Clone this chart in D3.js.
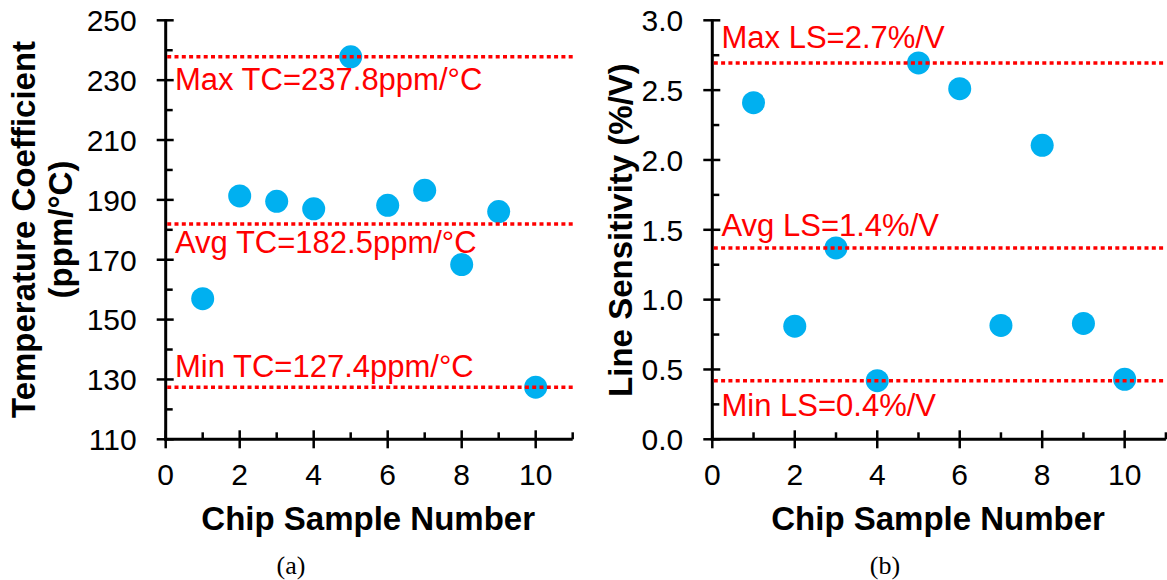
<!DOCTYPE html>
<html>
<head>
<meta charset="utf-8">
<script src="https://cdn.jsdelivr.net/npm/d3@7"></script>
<style>
  html, body { margin: 0; padding: 0; background: #fff; }
  svg { display: block; }
  text { font-family: "Liberation Sans", Arial, sans-serif; }
</style>
</head>
<body>
<svg id="chart" width="1167" height="580"></svg>
<script>
// ---- data ----
const chipSamples = [1, 2, 3, 4, 5, 6, 7, 8, 9, 10];
const tcValues = [157.0, 191.3, 189.5, 187.0, 237.8, 188.2, 193.2, 168.4, 186.1, 127.4];
const lsValues = [2.41, 0.81, 1.37, 0.42, 2.695, 2.51, 0.815, 2.105, 0.83, 0.43];

const tcRefValues = [237.8, 181.9, 127.4];
const tcRefLabels = ["Max TC=237.8ppm/°C", "Avg TC=182.5ppm/°C", "Min TC=127.4ppm/°C"];
const lsRefValues = [2.695, 1.37, 0.42];
const lsRefLabels = ["Max LS=2.7%/V", "Avg LS=1.4%/V", "Min LS=0.4%/V"];

const xMajorTicks = [0, 2, 4, 6, 8, 10];
const xMinorTicks = [1, 3, 5, 7, 9, 11];
const tcMajorTicks = [110, 130, 150, 170, 190, 210, 230, 250];
const tcMinorTicks = [120, 140, 160, 180, 200, 220, 240];
const lsMajorTicks = [0, 0.5, 1.0, 1.5, 2.0, 2.5, 3.0];
const lsMinorTicks = [0.25, 0.75, 1.25, 1.75, 2.25, 2.75];

const xTitle = "Chip Sample Number";
const tcTitle = ["Temperature Coefficient", "(ppm/°C)"];
const lsTitle = "Line Sensitivity (%/V)";
const captions = ["(a)", "(b)"];

// ---- drawing ----
const svg = d3.select("#chart");
const BLUE = "#00B0F0", RED = "#FF0000";

function panel(opts) {
  const g = svg.append("g");
  const x = d3.scaleLinear().domain([0, 11]).range(opts.xRange);
  const y = d3.scaleLinear().domain(opts.yDomain).range([439.3, 20.3]);
  const x0 = opts.xRange[0], yb = 439.3;

  // minor ticks (inside)
  g.selectAll(".xmin").data(xMinorTicks).enter().append("line")
    .attr("x1", d => x(d)).attr("x2", d => x(d))
    .attr("y1", yb).attr("y2", yb - 7)
    .attr("stroke", "#000").attr("stroke-width", 2.5);
  g.selectAll(".ymin").data(opts.yMinor).enter().append("line")
    .attr("x1", x0).attr("x2", x0 + 7)
    .attr("y1", d => y(d)).attr("y2", d => y(d))
    .attr("stroke", "#000").attr("stroke-width", 2.5);
  // major ticks (cross)
  g.selectAll(".xmaj").data(xMajorTicks).enter().append("line")
    .attr("x1", d => x(d)).attr("x2", d => x(d))
    .attr("y1", yb - 9).attr("y2", yb + 9)
    .attr("stroke", "#000").attr("stroke-width", 2.5);
  g.selectAll(".ymaj").data(opts.yMajor).enter().append("line")
    .attr("x1", x0 - 9).attr("x2", x0 + 8)
    .attr("y1", d => y(d)).attr("y2", d => y(d))
    .attr("stroke", "#000").attr("stroke-width", 2.5);
  // axis lines
  g.append("line").attr("x1", x0).attr("x2", x0).attr("y1", y.range()[1] - 1).attr("y2", yb + 1.5)
    .attr("stroke", "#000").attr("stroke-width", 3);
  g.append("line").attr("x1", x0 - 1.5).attr("x2", opts.xRange[1]).attr("y1", yb).attr("y2", yb)
    .attr("stroke", "#000").attr("stroke-width", 3);

  // tick labels
  g.selectAll(".xl").data(xMajorTicks).enter().append("text")
    .attr("x", d => x(d)).attr("y", 485)
    .attr("text-anchor", "middle").attr("font-size", 30).attr("fill", "#000")
    .text(d => d);
  g.selectAll(".yl").data(opts.yMajor).enter().append("text")
    .attr("x", x0 - 29).attr("y", d => y(d)).attr("dy", "0.36em")
    .attr("text-anchor", "end").attr("font-size", 30).attr("fill", "#000")
    .text(opts.yFmt);

  // points
  g.selectAll(".pt").data(chipSamples).enter().append("circle")
    .attr("cx", d => x(d)).attr("cy", (d, i) => y(opts.values[i]))
    .attr("r", 11.5).attr("fill", BLUE);

  // reference lines
  g.selectAll(".ref").data(opts.refValues).enter().append("line")
    .attr("x1", x0 + 1.5).attr("x2", opts.xRange[1])
    .attr("y1", d => y(d)).attr("y2", d => y(d))
    .attr("stroke", RED).attr("stroke-width", 3.5).attr("stroke-dasharray", "4 3.3");
  g.selectAll(".refl").data(opts.refLabels).enter().append("text")
    .attr("x", opts.labelX).attr("y", (d, i) => y(opts.refValues[i]) + opts.labelOffsets[i])
    .attr("font-size", 31).attr("fill", RED)
    .text(d => d);

  // x title
  g.append("text").attr("x", (opts.xRange[0] + opts.xRange[1]) / 2 - 1).attr("y", 530)
    .attr("text-anchor", "middle").attr("font-size", 33).attr("font-weight", "bold")
    .text(xTitle);
  // caption
  g.append("text").attr("x", opts.captionX).attr("y", 574)
    .attr("text-anchor", "middle").attr("font-size", 26)
    .style("font-family", "'Liberation Serif', 'Times New Roman', serif")
    .text(opts.caption);
  return g;
}

panel({
  xRange: [165.7, 572.7], yDomain: [110, 250],
  yMajor: tcMajorTicks, yMinor: tcMinorTicks, yFmt: d => d,
  values: tcValues, refValues: tcRefValues, refLabels: tcRefLabels,
  labelX: 175, labelOffsets: [33.5, 29, -10.5],
  caption: captions[0], captionX: 291
});
panel({
  xRange: [712.3, 1165.9], yDomain: [0, 3],
  yMajor: lsMajorTicks, yMinor: lsMinorTicks, yFmt: d3.format(".1f"),
  values: lsValues, refValues: lsRefValues, refLabels: lsRefLabels,
  labelX: 721.5, labelOffsets: [-14.5, -11.5, 35.5],
  caption: captions[1], captionX: 885
});

// y titles
tcTitle.forEach((t, i) => {
  svg.append("text")
    .attr("transform", `translate(${[35, 71.7][i]},229.5) rotate(-90)`)
    .attr("text-anchor", "middle").attr("font-size", 33).attr("font-weight", "bold")
    .text(t);
});
svg.append("text")
  .attr("transform", "translate(631.7,230) rotate(-90)")
  .attr("text-anchor", "middle").attr("font-size", 33).attr("font-weight", "bold")
  .text(lsTitle);
</script>
</body>
</html>
